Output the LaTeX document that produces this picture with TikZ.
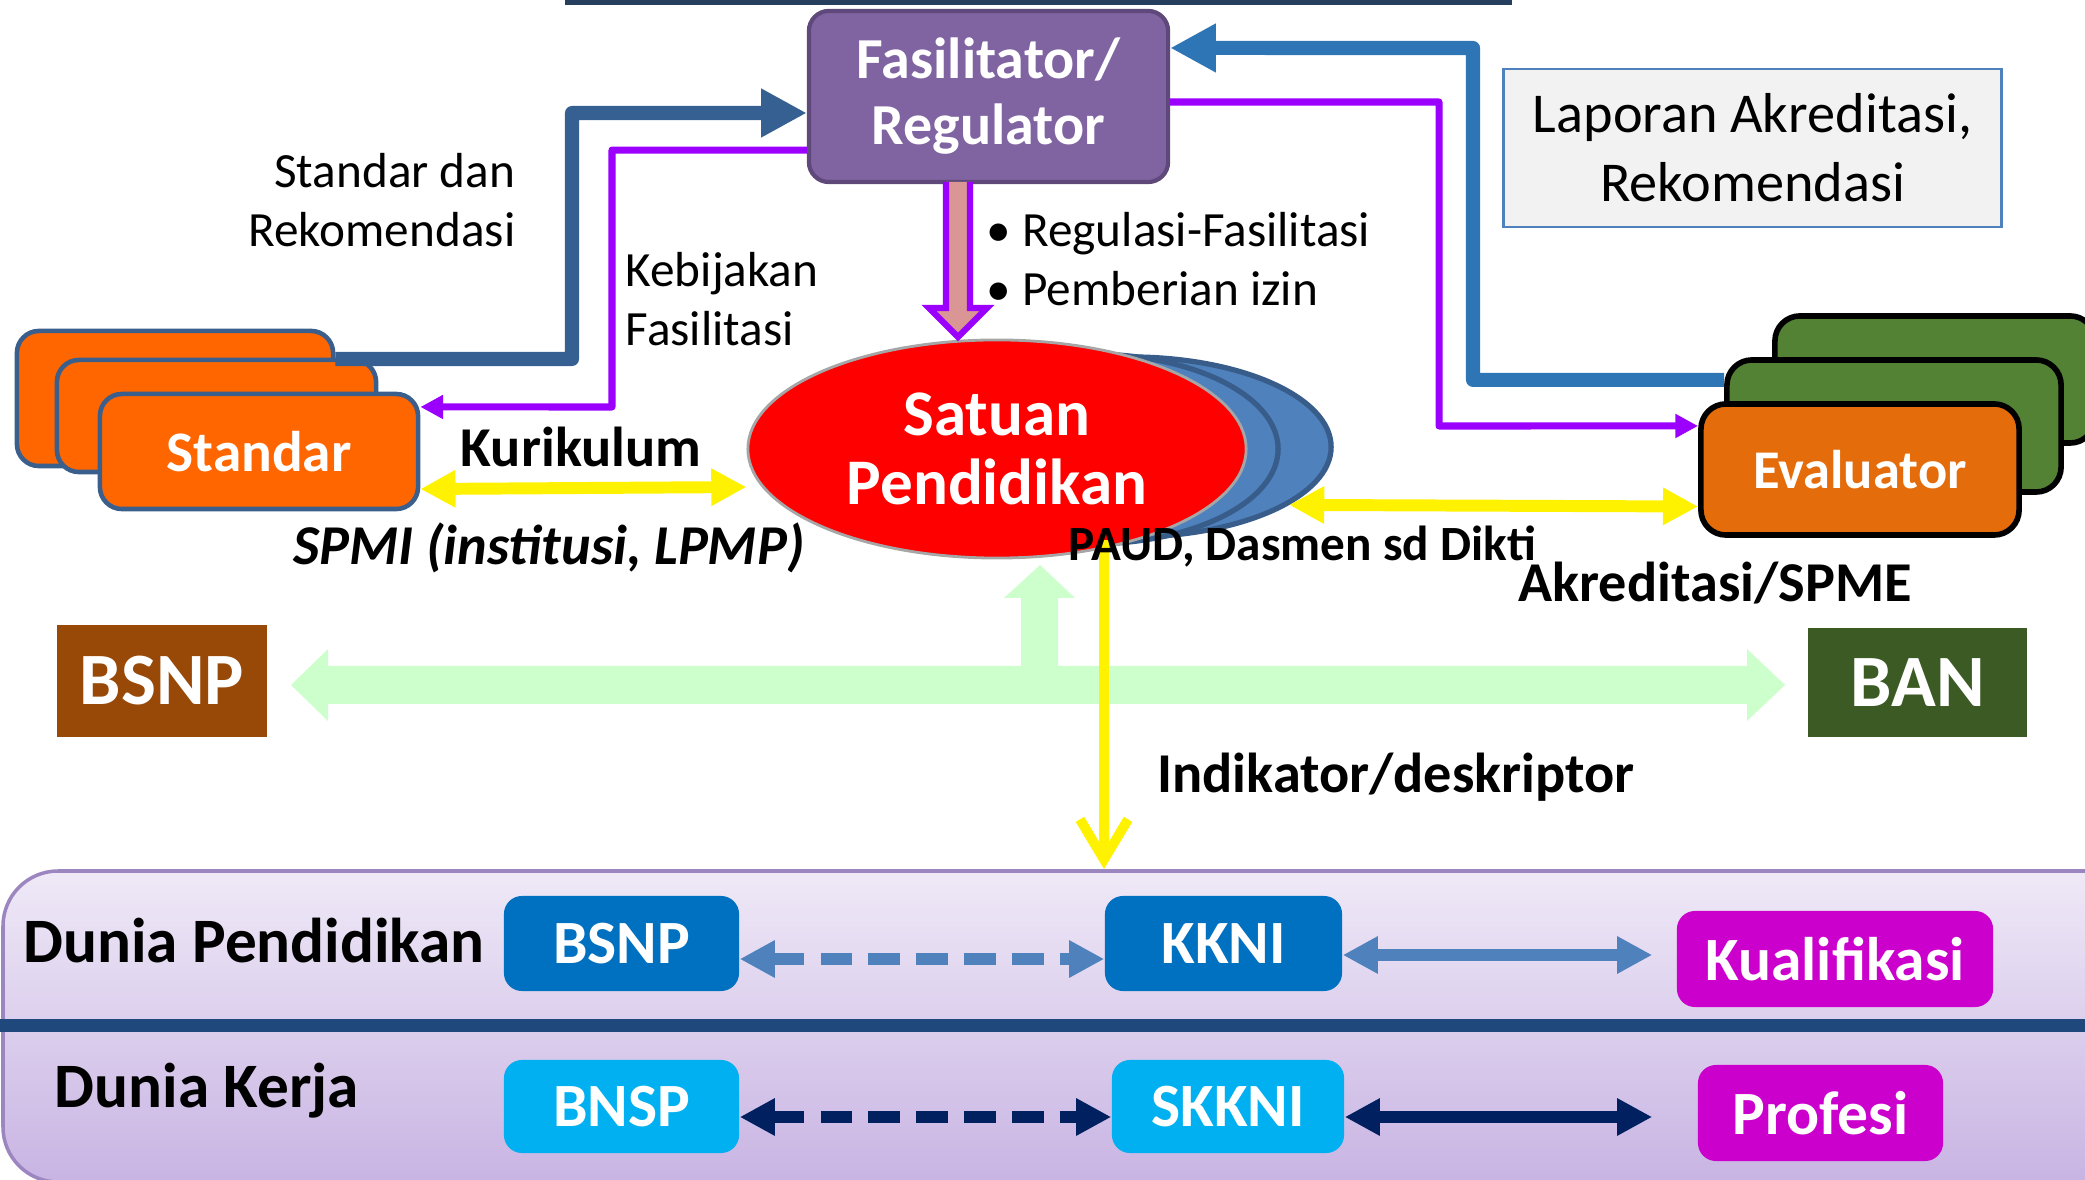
\documentclass[tikz,border=0pt]{standalone}
\usepackage{fontspec}
\setmainfont{Carlito}
\usetikzlibrary{shapes.geometric, arrows.meta, positioning}

\definecolor{regpurple}{HTML}{8064A2}
\definecolor{regborder}{HTML}{5F497A}
\definecolor{stdorange}{HTML}{FF6600}
\definecolor{stdborder}{HTML}{3B5F8C}
\definecolor{evorange}{HTML}{E46C0A}
\definecolor{evgreen}{HTML}{548235}
\definecolor{satblue}{HTML}{4F81BD}
\definecolor{satblueline}{HTML}{385D8A}
\definecolor{leftblue}{HTML}{376092}
\definecolor{rightblue}{HTML}{2E75B6}
\definecolor{linkpurple}{HTML}{9B00FF}
\definecolor{pinkfill}{HTML}{D99694}
\definecolor{mint}{HTML}{CCFFCC}
\definecolor{bsnpbrown}{HTML}{984807}
\definecolor{bangreen}{HTML}{3B5A24}
\definecolor{navyline}{HTML}{1F497D}
\definecolor{deepnavy}{HTML}{002060}
\definecolor{midblue}{HTML}{0070C0}
\definecolor{skyblue}{HTML}{00B0F0}
\definecolor{kualmag}{HTML}{CC00CC}
\definecolor{topnavy}{HTML}{263F5F}
\definecolor{lapfill}{HTML}{F2F2F2}
\definecolor{bandtopc}{HTML}{EFE9F7}
\definecolor{bandbotc}{HTML}{C8B4E3}
\definecolor{bandedge}{HTML}{9C86C0}

\begin{document}
\begin{tikzpicture}[x=0.01cm, y=-0.01cm,
  stdbox/.style={rounded corners=0.22cm, fill=stdorange, draw=stdborder, line width=1.3pt, inner sep=0pt},
  evbox/.style={rounded corners=0.25cm, draw=black, line width=1.6pt, inner sep=0pt},
  bigbox/.style={inner sep=0pt, text=white, font=\fontsize{21}{24}\selectfont\bfseries},
  smallbox/.style={rounded corners=0.18cm, inner sep=0pt, text=white, font=\fontsize{17.5}{20}\selectfont\bfseries, minimum height=0.95cm},
  satell/.style={ellipse, inner sep=0pt, fill=satblue, draw=satblueline, line width=1.5pt},
  lbl/.style={inner sep=0pt, font=\fontsize{14}{17}\selectfont},
  blbl/.style={inner sep=0pt, font=\fontsize{16}{19}\selectfont\bfseries},
  elbowlink/.style={line width=4pt, line join=round, -{Triangle[length=13pt,width=13pt]}},
  purplelink/.style={line width=2pt, linkpurple, line join=round, -{Triangle[length=6.5pt,width=6.5pt]}},
  twoway/.style={line width=3.3pt, {Triangle[length=10pt,width=10pt]}-{Triangle[length=10pt,width=10pt]}},
  dashlink/.style={dash pattern=on 9pt off 4.6pt},
]
\useasboundingbox (0,0) rectangle (2085,1180);
\clip (0,0) rectangle (2085,1180);

% top bar and lower band
\fill[topnavy] (565,0) rectangle (1512,5);
\draw[bandedge, line width=1pt, top color=bandtopc, bottom color=bandbotc, rounded corners=0.55cm] (3,871) rectangle (2200,1182);
\fill[navyline] (0,1019) rectangle (2085,1032);

% mint arrow between BSNP, BAN and the school
\fill[mint] (291,685) -- (328,649) -- (328,666) -- (1021,666) -- (1021,598) -- (1004,598) -- (1040,565)
  -- (1075,598) -- (1058,598) -- (1058,666) -- (1747,666) -- (1747,649) -- (1785,685) -- (1747,721)
  -- (1747,704) -- (328,704) -- (328,721) -- cycle;

% standar stack
\node[stdbox, minimum width=3.16cm, minimum height=1.35cm] (std1) at (175,398.5) {};
\node[stdbox, minimum width=3.19cm, minimum height=1.12cm] (std2) at (216.5,416) {};
\node[stdbox, minimum width=3.18cm, minimum height=1.15cm, text=white, font=\fontsize{16.3}{19}\selectfont\bfseries] (std3) at (259,451.5) {Standar};

% evaluator stack
\node[evbox, fill=evgreen, minimum width=3.2cm, minimum height=1.27cm] (ev1) at (1935,379.5) {};
\node[evbox, fill=evgreen, minimum width=3.34cm, minimum height=1.32cm] (ev2) at (1894,426) {};
\node[evbox, fill=evorange, minimum width=3.18cm, minimum height=1.31cm, text=white, font=\fontsize{15.5}{18}\selectfont\bfseries] (ev3) at (1860,469.5) {Evaluator};

% satuan pendidikan
\node[satell, minimum width=4.02cm, minimum height=1.8cm] (satb1) at (1130,447) {};
\node[satell, minimum width=3.76cm, minimum height=1.9cm] (satb2) at (1090,449) {};
\node[ellipse, inner sep=0pt, fill=red, draw=gray!70, line width=0.8pt, minimum width=4.98cm, minimum height=2.18cm,
  text=white, align=center, font=\fontsize{18.5}{19.5}\selectfont\bfseries] (sat) at (997,449) {Satuan\\Pendidikan};

% regulator and report
\node[rounded corners=0.2cm, inner sep=0pt, fill=regpurple, draw=regborder, line width=1.2pt, minimum width=3.59cm, minimum height=1.71cm,
  text=white, align=center, font=\fontsize{16.5}{18.8}\selectfont\bfseries] (fasil) at (988.5,96.5) {Fasilitator/\\Regulator};
\node[inner sep=0pt, fill=lapfill, draw=satblue, line width=0.8pt, minimum width=4.97cm, minimum height=1.58cm,
  align=center, font=\fontsize{16}{19.7}\selectfont] (lapor) at (1752.5,148) {Laporan Akreditasi,\\Rekomendasi};

% BSNP and BAN
\node[bigbox, fill=bsnpbrown, minimum width=2.1cm, minimum height=1.12cm] (bsnpbig) at (162,681) {BSNP};
\node[bigbox, fill=bangreen, minimum width=2.19cm, minimum height=1.09cm] (ban) at (1917.5,682.5) {BAN};

% dunia pendidikan / dunia kerja
\node[smallbox, fill=midblue, minimum width=2.35cm] (bsnp2) at (621.5,943.5) {BSNP};
\node[smallbox, fill=midblue, minimum width=2.37cm] (kkni) at (1223.5,943.5) {KKNI};
\node[smallbox, fill=kualmag, minimum width=3.16cm, minimum height=0.96cm] (kual) at (1835,959) {Kualifikasi};
\node[smallbox, fill=skyblue, minimum width=2.35cm, minimum height=0.93cm] (bnsp) at (621.5,1106.5) {BNSP};
\node[smallbox, fill=skyblue, minimum width=2.32cm, minimum height=0.93cm] (skkni) at (1228,1106.5) {SKKNI};
\node[smallbox, fill=kualmag, minimum width=2.45cm, minimum height=0.96cm] (prof) at (1820.5,1113) {Profesi};

% links to the regulator
\coordinate (leftup) at (572,113);
\coordinate (leftdown) at (612,407);
\coordinate (rightup) at (1473,48);
\coordinate (rightdown) at (1439,426);
\draw[elbowlink, leftblue] ([yshift=0.395cm]std1.east) -| (leftup) -- ([yshift=-0.165cm]fasil.west);
\draw[purplelink] ([yshift=-0.535cm]fasil.west) -| (leftdown) -- ([yshift=0.445cm]std3.east);
\draw[elbowlink, rightblue] ([yshift=0.46cm]ev2.west) -| (rightup) -- ([yshift=0.485cm]fasil.east);
\draw[purplelink] ([yshift=-0.055cm]fasil.east) -| (rightdown) -- ([yshift=0.435cm]ev3.west);
\filldraw[fill=pinkfill, draw=linkpurple, line width=1.8pt] (946,182) -- (946,308) -- (929,308) -- (958,337)
  -- (987,308) -- (970,308) -- (970,182);

% yellow links
\coordinate (bandtop) at (1104,869);
\draw[twoway, yellow, line width=3.4pt] ([yshift=-0.375cm]std3.east) -- ([yshift=-0.38cm]sat.west);
\draw[twoway, yellow, line width=3.4pt] (satb1.-20) -- ([yshift=-0.37cm]ev3.west);
\draw[yellow, line width=2.8pt, -{Straight Barb[length=11.4pt,width=13.7pt]}] (satb1.south -| bandtop) -- (bandtop);

% links in the band
\draw[twoway, satblue, dashlink] ([yshift=-0.155cm]bsnp2.east) -- ([yshift=-0.155cm]kkni.west);
\draw[twoway, satblue] ([yshift=-0.115cm]kkni.east) -- ([xshift=-0.24cm,yshift=0.04cm]kual.west);
\draw[twoway, deepnavy, dashlink] ([yshift=-0.105cm]bnsp.east) -- ([yshift=-0.105cm]skkni.west);
\draw[twoway, deepnavy] ([yshift=-0.105cm]skkni.east) -- ([xshift=-0.45cm,yshift=-0.04cm]prof.west);

% labels
\node[lbl, align=right, anchor=east] (stdlbl) at (516,200) {Standar dan\\Rekomendasi};
\node[lbl, align=left, anchor=west] (keblbl) at (625,299) {Kebijakan\\Fasilitasi};
\node[lbl, align=left, anchor=west] (reglbl) at (986,259) {\textbullet\ Regulasi-Fasilitasi\\\textbullet\ Pemberian izin};
\node[blbl] (kurlbl) at (581,447) {Kurikulum};
\node[blbl, font=\fontsize{16}{19}\selectfont\bfseries\itshape] (spmilbl) at (549,548) {SPMI (institusi, LPMP)};
\node[inner sep=0pt, font=\fontsize{14}{17}\selectfont\bfseries] (paudlbl) at (1302,547) {PAUD, Dasmen sd Dikti};
\node[blbl] (akrlbl) at (1715,583) {Akreditasi/SPME};
\node[blbl] (indlbl) at (1396,777) {Indikator/deskriptor};
\node[inner sep=0pt, font=\fontsize{18}{21}\selectfont\bfseries] (dplbl) at (254,941) {Dunia Pendidikan};
\node[inner sep=0pt, font=\fontsize{18}{21}\selectfont\bfseries] (dklbl) at (207,1091) {Dunia Kerja};
\end{tikzpicture}
\end{document}
